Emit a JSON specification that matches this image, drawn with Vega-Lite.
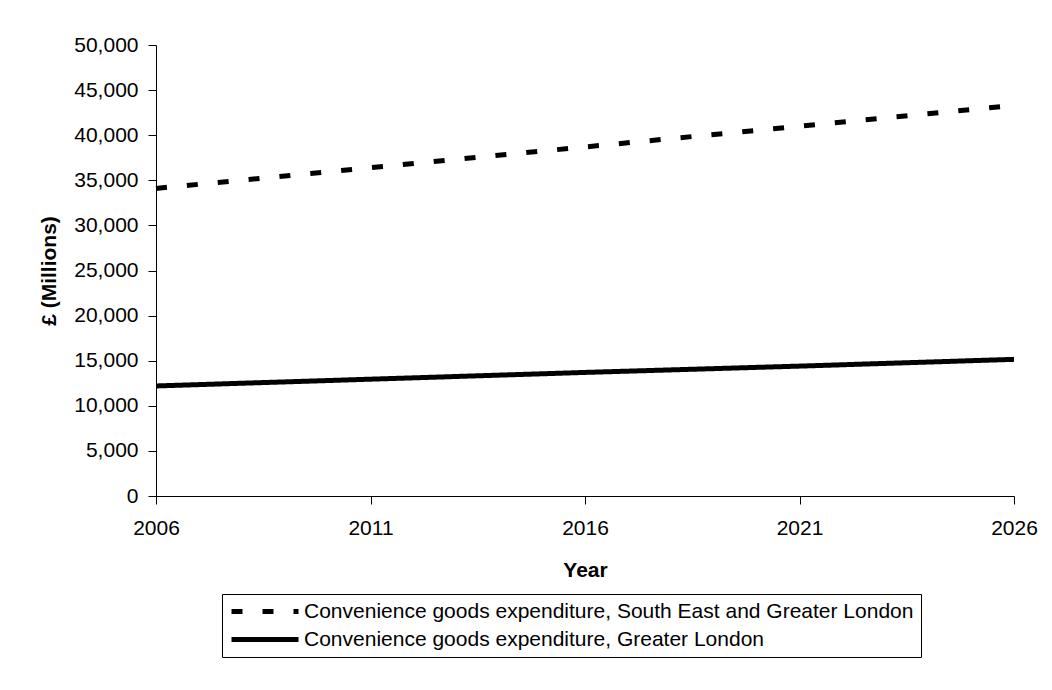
{
  "$schema": "https://vega.github.io/schema/vega-lite/v6.json",
  "autosize": "none",
  "width": 858,
  "height": 451,
  "padding": {"left": 156, "top": 45, "right": 38, "bottom": 194},
  "background": "white",
  "config": {
    "view": {"stroke": null},
    "font": "Liberation Sans",
    "axis": {
      "labelFont": "Liberation Sans",
      "titleFont": "Liberation Sans",
      "labelFontSize": 21,
      "titleFontSize": 21,
      "labelColor": "black",
      "titleColor": "black",
      "domainColor": "black",
      "tickColor": "black",
      "grid": false,
      "tickSize": 8
    }
  },
  "data": {
    "values": [
      {"year": 2006, "series": "Convenience goods expenditure, South East and Greater London", "value": 34100},
      {"year": 2011, "series": "Convenience goods expenditure, South East and Greater London", "value": 36400},
      {"year": 2016, "series": "Convenience goods expenditure, South East and Greater London", "value": 38700},
      {"year": 2021, "series": "Convenience goods expenditure, South East and Greater London", "value": 41000},
      {"year": 2026, "series": "Convenience goods expenditure, South East and Greater London", "value": 43300},
      {"year": 2006, "series": "Convenience goods expenditure, Greater London", "value": 12200},
      {"year": 2011, "series": "Convenience goods expenditure, Greater London", "value": 12950},
      {"year": 2016, "series": "Convenience goods expenditure, Greater London", "value": 13700},
      {"year": 2021, "series": "Convenience goods expenditure, Greater London", "value": 14400},
      {"year": 2026, "series": "Convenience goods expenditure, Greater London", "value": 15150}
    ]
  },
  "mark": {"type": "line", "strokeWidth": 5, "strokeCap": "butt"},
  "encoding": {
    "x": {
      "field": "year",
      "type": "quantitative",
      "scale": {"domain": [2006, 2026], "nice": false, "zero": false},
      "axis": {
        "title": "Year",
        "titleFontWeight": "bold",
        "values": [2006, 2011, 2016, 2021, 2026],
        "format": "d",
        "labelPadding": 13,
        "titlePadding": 21,
        "labelFlush": false
      }
    },
    "y": {
      "field": "value",
      "type": "quantitative",
      "scale": {"domain": [0, 50000], "nice": false},
      "axis": {
        "title": "£ (Millions)",
        "titleFontWeight": "bold",
        "values": [0, 5000, 10000, 15000, 20000, 25000, 30000, 35000, 40000, 45000, 50000],
        "format": ",d",
        "labelPadding": 10,
        "titlePadding": 14
      }
    },
    "color": {
      "field": "series",
      "type": "nominal",
      "scale": {
        "domain": ["Convenience goods expenditure, South East and Greater London", "Convenience goods expenditure, Greater London"],
        "range": ["black", "black"]
      },
      "legend": {
        "title": null,
        "orient": "none",
        "legendX": 66,
        "legendY": 549,
        "direction": "vertical",
        "strokeColor": "black",
        "fillColor": "white",
        "padding": 7,
        "rowPadding": 6,
        "clipHeight": 21,
        "symbolType": "stroke",
        "symbolSize": 4489,
        "symbolStrokeWidth": 5,
        "symbolStrokeColor": "black",
        "labelFont": "Liberation Sans",
        "labelFontSize": 21,
        "labelColor": "black",
        "labelLimit": 1000,
        "labelOffset": 3
      }
    },
    "strokeDash": {
      "field": "series",
      "type": "nominal",
      "scale": {
        "domain": ["Convenience goods expenditure, South East and Greater London", "Convenience goods expenditure, Greater London"],
        "range": [[11, 20], [1, 0]]
      },
      "legend": {
        "title": null,
        "orient": "none",
        "legendX": 66,
        "legendY": 549,
        "direction": "vertical",
        "strokeColor": "black",
        "fillColor": "white",
        "padding": 7,
        "rowPadding": 6,
        "clipHeight": 21,
        "symbolType": "stroke",
        "symbolSize": 4489,
        "symbolStrokeWidth": 5,
        "symbolStrokeColor": "black",
        "labelFont": "Liberation Sans",
        "labelFontSize": 21,
        "labelColor": "black",
        "labelLimit": 1000,
        "labelOffset": 3
      }
    }
  }
}
